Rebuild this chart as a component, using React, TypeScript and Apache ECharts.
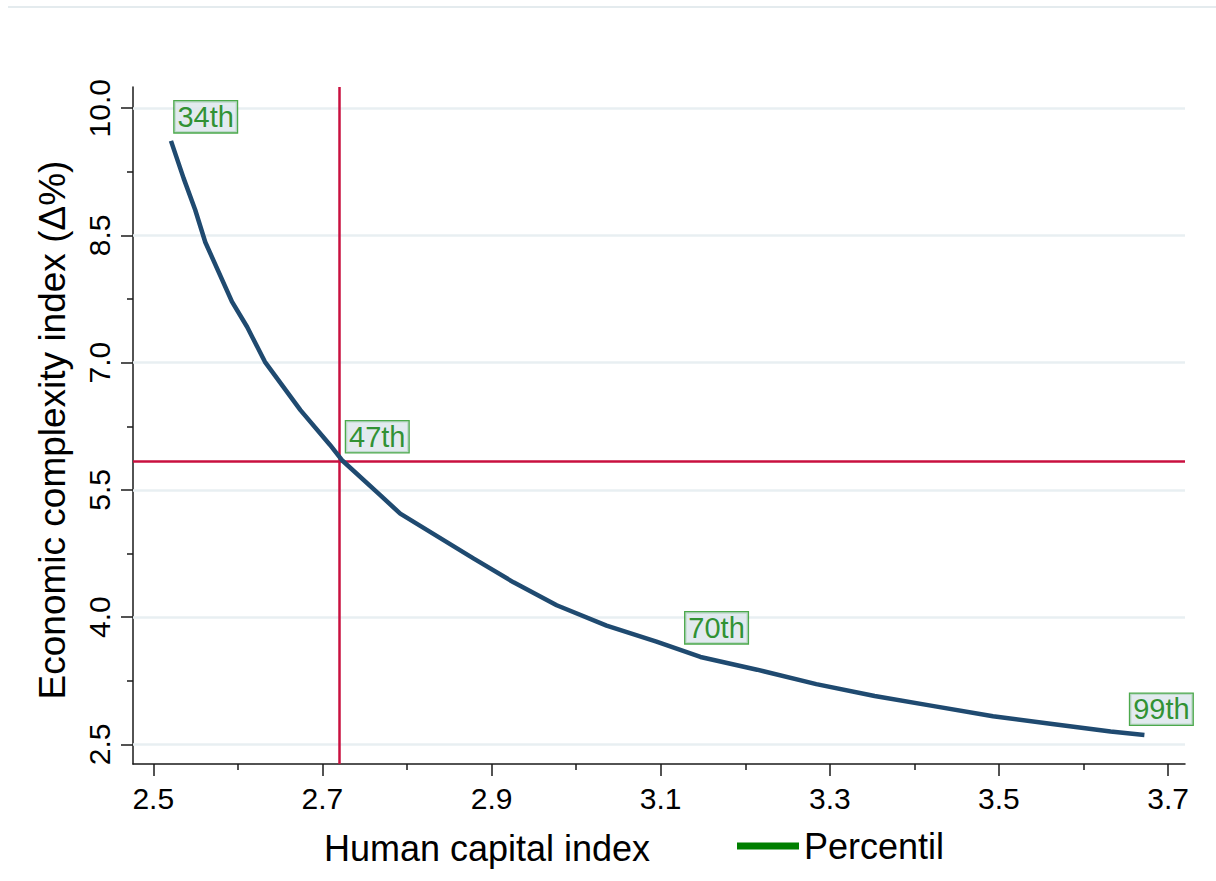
import React, { useEffect, useRef } from "react";
import * as echarts from "echarts";

// Human capital index (x) and economic complexity index Δ% (y) along the curve
const hciValues = [2.5209, 2.536, 2.5496, 2.5615, 2.593, 2.611, 2.632, 2.674, 2.709, 2.7238, 2.768, 2.792, 2.879, 2.926, 2.977, 3.036, 3.095, 3.147, 3.214, 3.284, 3.353, 3.423, 3.493, 3.563, 3.632, 3.672];
const eciValues = [9.615, 9.17, 8.8, 8.42, 7.72, 7.42, 7.01, 6.44, 6.03, 5.843, 5.44, 5.22, 4.69, 4.41, 4.14, 3.9, 3.71, 3.53, 3.38, 3.21, 3.07, 2.95, 2.83, 2.74, 2.65, 2.61];

// Percentile markers
const percentileLabels = ["34th", "47th", "70th", "99th"];
const percentileHci = [2.5209, 2.7238, 3.125, 3.651];
const percentileEci = [9.615, 5.843, 3.59, 2.63];

// Reference lines
const refHci = 2.7238;
const refEci = 5.843;

// Ticks
const xMajorTicks = [2.5, 2.7, 2.9, 3.1, 3.3, 3.5, 3.7];
const xMinorTicks = [2.6, 2.8, 3.0, 3.2, 3.4, 3.6];
const yMajorTicks = [2.5, 4.0, 5.5, 7.0, 8.5, 10.0];
const yMinorTicks = [3.25, 4.75, 6.25, 7.75, 9.25];

const xTitle = "Human capital index";
const yTitle = "Economic complexity index (Δ%)";
const legendName = "Percentil";

const FONT = "'Liberation Sans', Arial, sans-serif";

export default function App() {
  const ref = useRef<HTMLDivElement>(null);

  useEffect(() => {
    if (!ref.current) return;
    const chart = echarts.init(ref.current, undefined, { renderer: "svg" });

    const axisLineStyle = { color: "#1a1a1a", width: 1.5 };

    const option: any = {
      animation: false,
      backgroundColor: "#ffffff",
      textStyle: { fontFamily: FONT },
      grid: { left: 133, right: 31, top: 87, bottom: 117, containLabel: false },
      xAxis: [
        {
          type: "value",
          min: 2.476,
          max: 3.72,
          position: "bottom",
          axisLine: { show: true, lineStyle: axisLineStyle },
          axisTick: { show: true, customValues: xMajorTicks, length: 12, lineStyle: axisLineStyle },
          axisLabel: {
            customValues: xMajorTicks,
            formatter: (v: number) => v.toFixed(1),
            fontSize: 30,
            color: "#000",
            margin: 19,
            fontFamily: FONT,
          },
          splitLine: { show: false },
        },
        {
          type: "value",
          min: 2.476,
          max: 3.72,
          position: "bottom",
          axisLine: { show: false },
          axisTick: { show: true, customValues: xMinorTicks, length: 6, lineStyle: axisLineStyle },
          axisLabel: { show: false },
          splitLine: { show: false },
        },
      ],
      yAxis: [
        {
          type: "value",
          min: 2.268,
          max: 10.25,
          position: "left",
          axisLine: { show: true, lineStyle: axisLineStyle },
          axisTick: { show: true, customValues: yMajorTicks, length: 12, lineStyle: axisLineStyle },
          axisLabel: {
            customValues: yMajorTicks,
            formatter: (v: number) => v.toFixed(1),
            fontSize: 30,
            color: "#000",
            rotate: 90,
            margin: 19,
            fontFamily: FONT,
          },
          splitLine: { show: false },
        },
        {
          type: "value",
          min: 2.268,
          max: 10.25,
          position: "left",
          axisLine: { show: false },
          axisTick: { show: true, customValues: yMinorTicks, length: 6, lineStyle: axisLineStyle },
          axisLabel: { show: false },
          splitLine: { show: false },
        },
      ],
      legend: {
        show: true,
        left: 737,
        top: 828,
        padding: 0,
        itemWidth: 62,
        itemHeight: 7,
        textStyle: { fontSize: 36, color: "#000", fontFamily: FONT },
        data: [{ name: legendName, icon: "rect", itemStyle: { color: "#007f00", opacity: 1 } }],
      },
      series: [
        {
          name: "grid",
          type: "line",
          data: [],
          z: 1,
          silent: true,
          markLine: {
            silent: true,
            z: 1,
            symbol: "none",
            label: { show: false },
            lineStyle: { color: "#e8eff2", width: 2.5, type: "solid" },
            data: yMajorTicks.map((v) => ({ yAxis: v })),
          },
        },
        {
          name: "refLines",
          type: "line",
          data: [],
          z: 2,
          silent: true,
          markLine: {
            silent: true,
            z: 2,
            symbol: "none",
            label: { show: false },
            lineStyle: { color: "#c9103f", width: 2.5, type: "solid" },
            data: [{ xAxis: refHci }, { yAxis: refEci }],
          },
        },
        {
          name: "curve",
          type: "line",
          z: 3,
          symbol: "none",
          smooth: false,
          lineStyle: { color: "#1f4a70", width: 4.5 },
          data: hciValues.map((x, i) => [x, eciValues[i]]),
        },
        {
          name: legendName,
          type: "scatter",
          z: 4,
          symbolSize: 1,
          itemStyle: { color: "rgba(0,0,0,0)" },
          data: percentileHci.map((x, i) => ({ value: [x, percentileEci[i]], name: percentileLabels[i] })),
          label: {
            show: true,
            formatter: (p: any) => p.name,
            position: [4, -8],
            align: "left",
            verticalAlign: "bottom",
            fontSize: 29,
            lineHeight: 29,
            fontFamily: FONT,
            color: "#007a00",
            backgroundColor: "#dbe5eb",
            borderColor: "#1f931f",
            borderWidth: 1.3,
            padding: [1, 3, 1, 3],
          },
        },
      ],
      graphic: [
        {
          type: "line",
          shape: { x1: 8, y1: 7, x2: 1216, y2: 7 },
          style: { stroke: "#e4ebee", lineWidth: 2 },
        },
        {
          type: "text",
          x: 487,
          y: 848,
          style: {
            text: xTitle,
            fontSize: 36,
            fontFamily: FONT,
            fill: "#000",
            align: "center",
            verticalAlign: "middle",
          },
        },
        {
          type: "text",
          x: 52,
          y: 430,
          rotation: Math.PI / 2,
          style: {
            text: yTitle,
            fontSize: 37,
            fontFamily: FONT,
            fill: "#000",
            align: "center",
            verticalAlign: "middle",
          },
        },
      ],
    };

    chart.setOption(option);
    return () => chart.dispose();
  }, []);

  return (
    <div
      ref={ref}
      style={{ position: "absolute", left: 0, top: 0, width: 1216, height: 881 }}
    />
  );
}
